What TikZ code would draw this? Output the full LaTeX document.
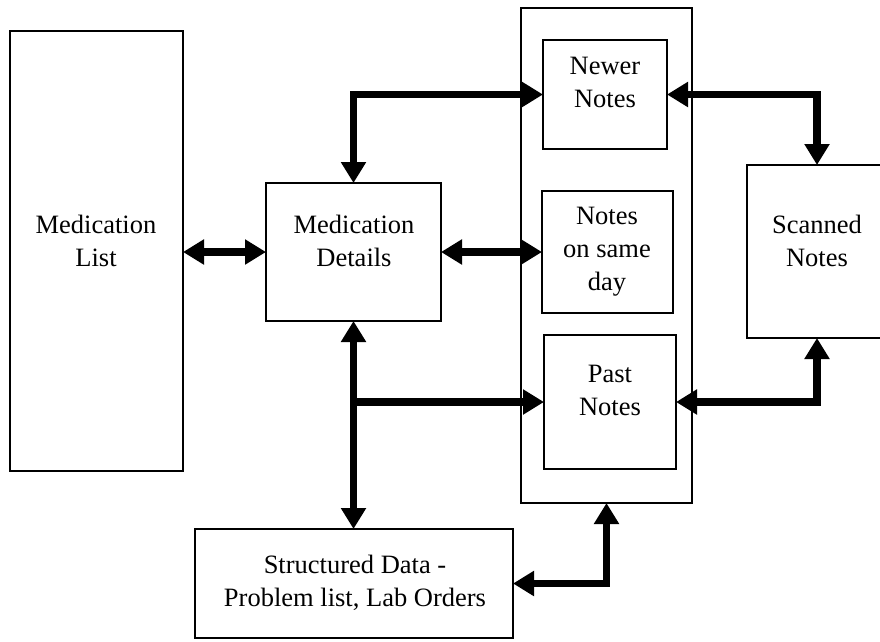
\documentclass[tikz,border=0pt]{standalone}
\usepackage{fontspec}
\setmainfont{Liberation Serif}
\usetikzlibrary{arrows.meta}

\tikzset{
  box/.style={draw, line width=2pt, anchor=north west, inner sep=0pt, outer sep=0pt},
  txt/.style={align=center, anchor=north, inner sep=0pt, font=\fontsize{26.5}{33}\selectfont},
  tip/.tip={Triangle[length=21pt,width=24pt]},
  conn/.style={line width=7.5pt, tip-tip},
  oneway/.style={line width=7.5pt, -tip},
}

\begin{document}
\begin{tikzpicture}[x=1pt, y=-1pt]
  \useasboundingbox (0,0) rectangle (880,641);
  \clip (0,0) rectangle (880,641);

  % boxes
  \node[box, minimum width=173pt, minimum height=440pt] (mlist)   at (10,31)   {};
  \node[box, minimum width=175pt, minimum height=138pt] (mdet)    at (266,183) {};
  \node[box, minimum width=171pt, minimum height=495pt] (outer)   at (521,8)   {};
  \node[box, minimum width=124pt, minimum height=109pt] (newer)   at (543,40)  {};
  \node[box, minimum width=131pt, minimum height=122pt] (sameday) at (542,191) {};
  \node[box, minimum width=132pt, minimum height=134pt] (past)    at (544,335) {};
  \node[box, minimum width=140pt, minimum height=173pt] (scanned) at (747,165) {};
  \node[box, minimum width=318pt, minimum height=109pt] (struct)  at (195,529) {};

  % labels
  \node[txt] (mlist-t)   at (96,215)  {Medication\\List};
  \node[txt] (mdet-t)    at (354,215) {Medication\\Details};
  \node[txt] (newer-t)   at (605,57)  {Newer\\Notes};
  \node[txt] (sameday-t) at (607,207) {Notes\\on same\\day};
  \node[txt] (past-t)    at (610,365) {Past\\Notes};
  \node[txt] (scanned-t) at (817,215) {Scanned\\Notes};
  \node[txt] (struct-t)  at (355,555) {Structured Data -\\Problem list, Lab Orders};

  % connectors
  \coordinate (j) at (mdet.south |- past.west);
  \draw[conn] (mlist.east |- mdet.west) -- (mdet.west);
  \draw[conn] (mdet.east) -- (mdet.east -| sameday.west);
  \draw[conn] (newer.west) -| (mdet.north);
  \draw[conn] (newer.east) -| (scanned.north);
  \draw[conn] (past.east) -| (scanned.south);
  \draw[conn] (mdet.south) -- (mdet.south |- struct.north);
  \draw[oneway] (j) -- (past.west);
  \draw[conn] (struct.east) -| (outer.south);
\end{tikzpicture}
\end{document}
